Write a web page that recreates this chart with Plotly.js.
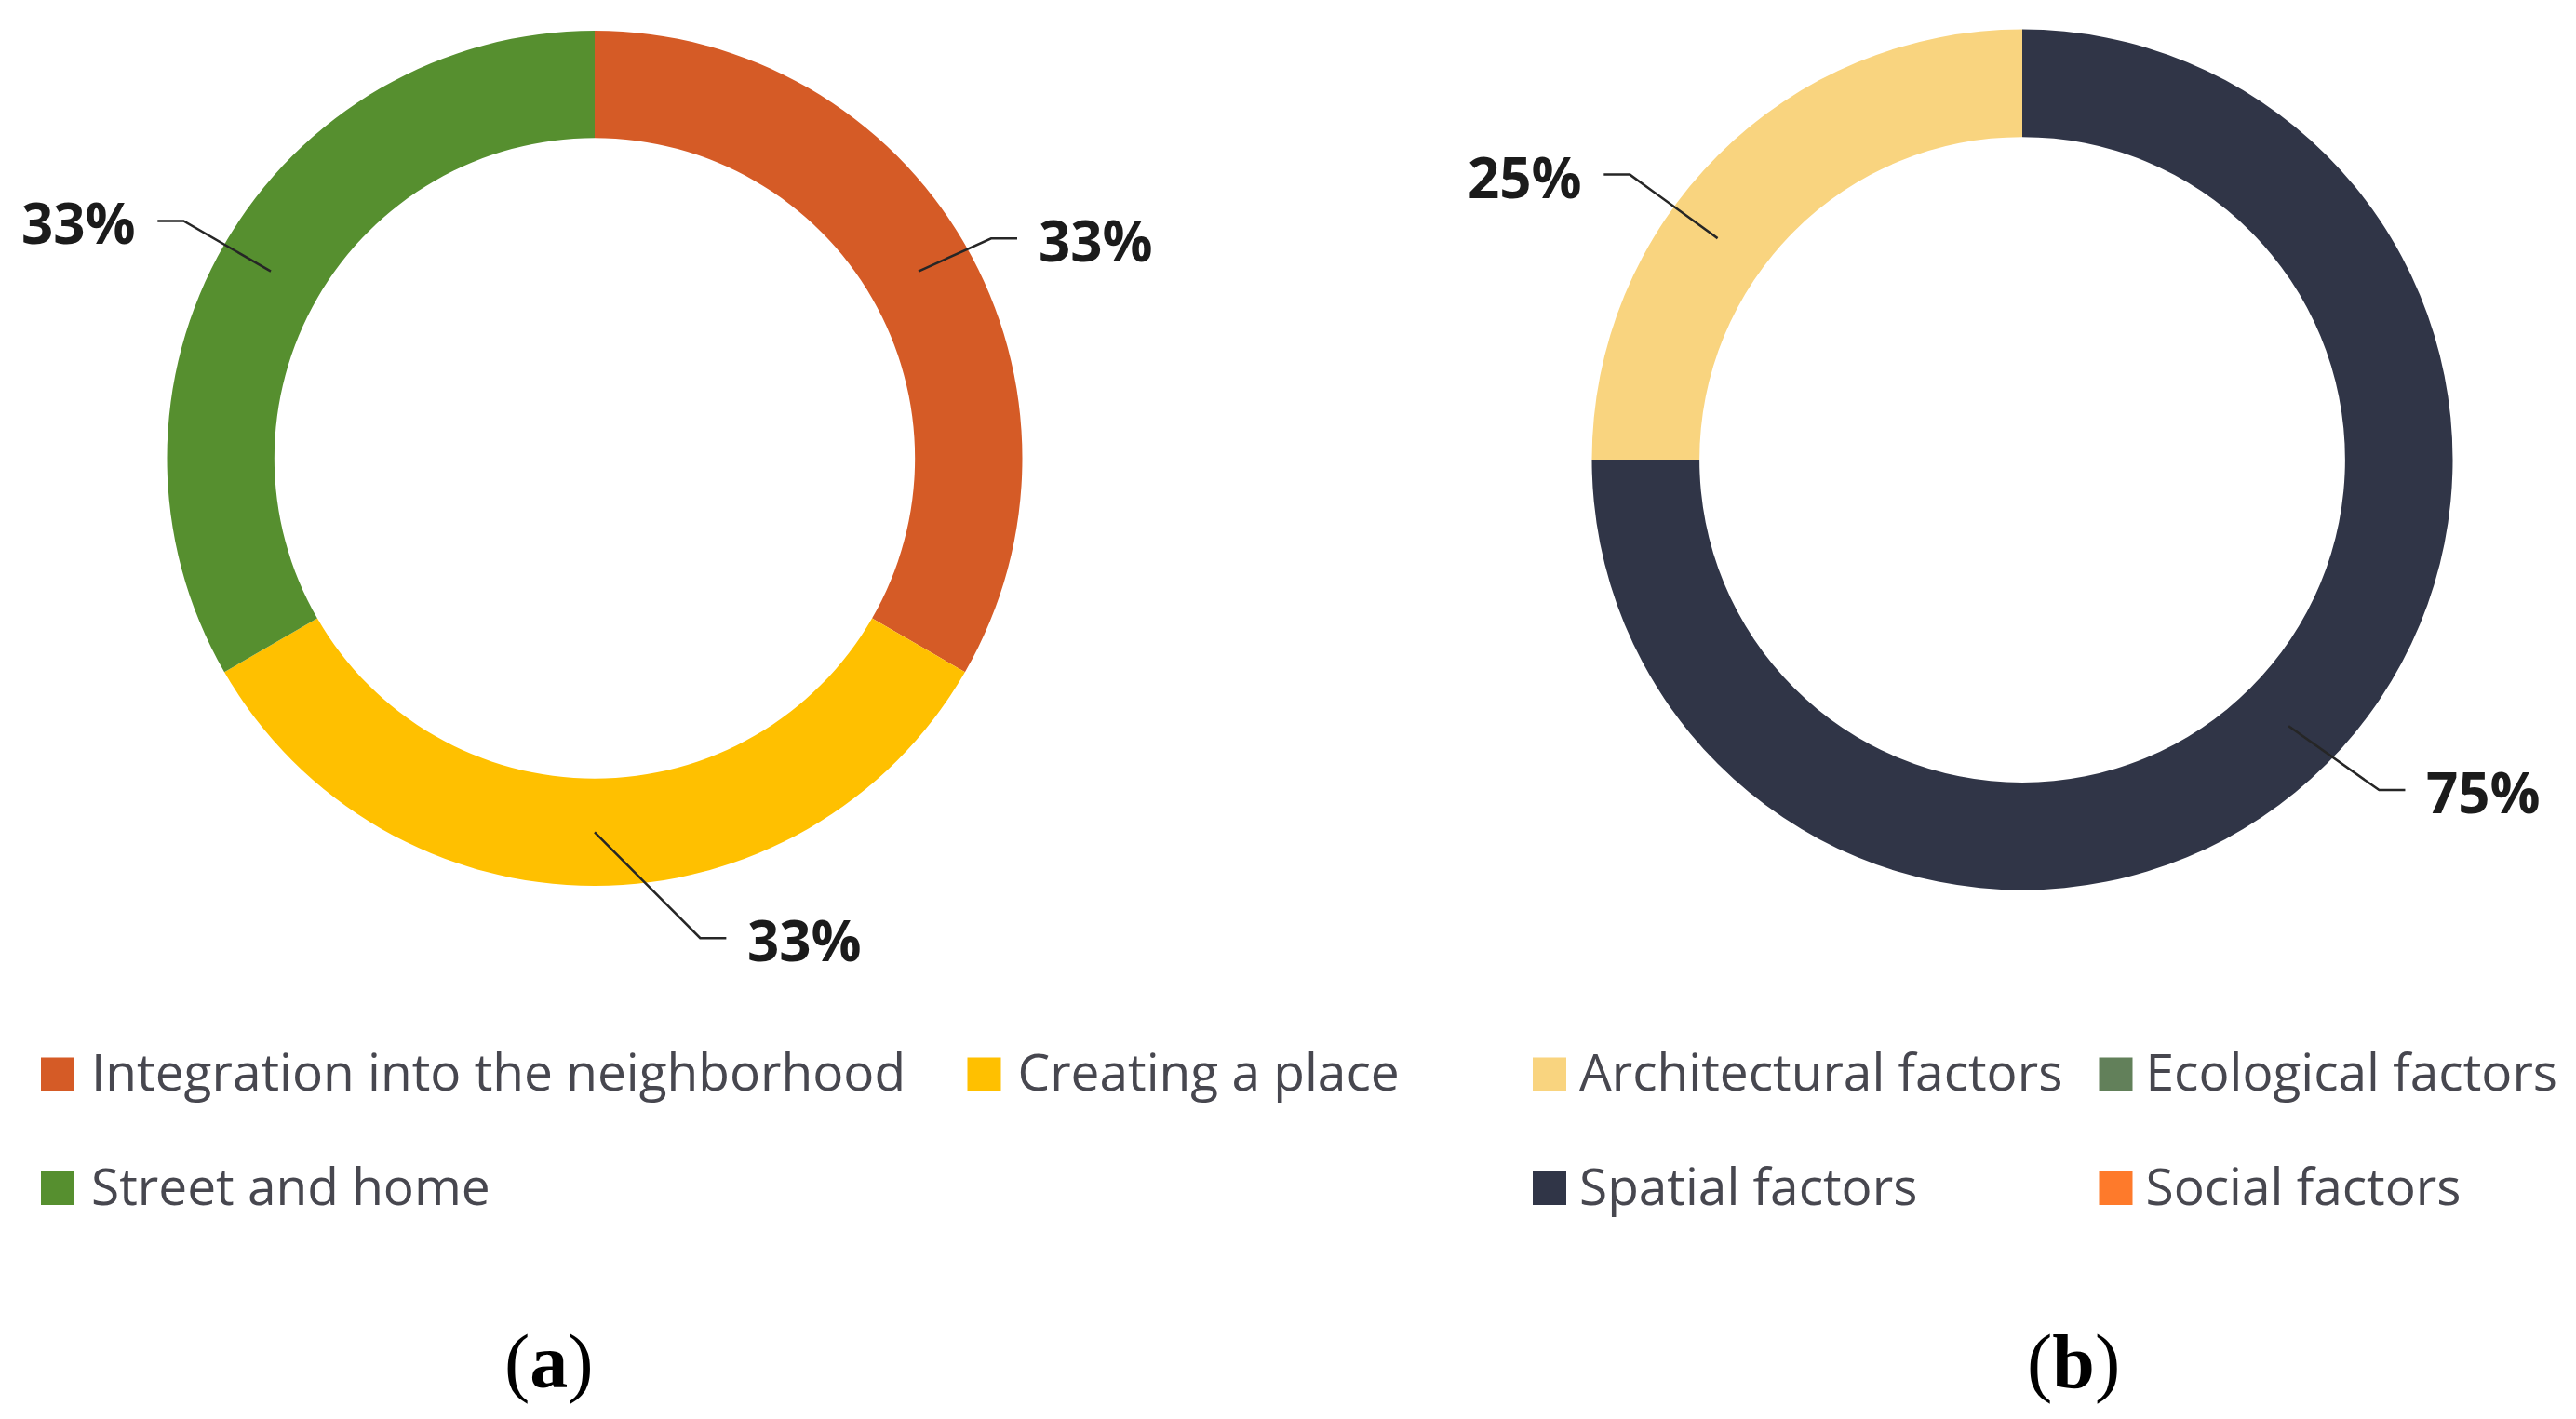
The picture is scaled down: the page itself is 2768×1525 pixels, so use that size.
<!DOCTYPE html>
<html><head><meta charset="utf-8">
<script src="https://cdn.plot.ly/plotly-3.0.1.min.js"></script>
<style>
html,body{margin:0;padding:0;background:#ffffff;width:2768px;height:1525px;overflow:hidden;}
#chartA{position:absolute;left:0;top:0;width:2768px;height:1525px;}
#chartB{position:absolute;left:1384px;top:0;width:1600px;height:1525px;}
</style></head><body>
<div id="chartA"></div><div id="chartB"></div>
<script>
// ---------- data ----------
const categoriesA = ['Integration into the neighborhood', 'Creating a place', 'Street and home'];
const valuesA = [33, 33, 33];
const colorsA = ['#D55B26', '#FFC000', '#568F2F'];

const categoriesB = ['Architectural factors', 'Ecological factors', 'Spatial factors', 'Social factors'];
const valuesB = [25, 0, 75, 0];
const colorsB = ['#F9D47F', '#62805A', '#303547', '#FE7A2B'];

const captionA = 'a';
const captionB = 'b';

// ---------- layout config (page pixels) ----------
const PAGE_H = 1525;
const panelA = {
  left: 0, width: 2768, cx: 639, cy: 492.5, R: 459.5, hole: 0.749, direction: 'clockwise',
  legend: {x0: 26, top: 1118, itemwidth: 62, entrywidth: 918.5},
  labelGeom: [{ds: 0, de: 1, re: 1.06}, {ds: 0, de: -12.4, re: 1.149}, {ds: 0, de: 0, re: 1.11}],
  caption: {x: 590, y: 1463}, bg: '#ffffff'
};
const panelB = {
  left: 1384, width: 1600, cx: 2173, cy: 494, R: 462.5, hole: 0.75, direction: 'counterclockwise',
  legend: {x0: 1633, top: 1118, itemwidth: 54, entrywidth: 539.5},
  labelGeom: [{ds: -9, de: -9, re: 1.127}, null, {ds: 0, de: -2.2, re: 1.13}, null],
  caption: {x: 2228, y: 1463}, bg: 'rgba(0,0,0,0)'
};

function buildPanel(divId, p, cats, vals, colors, caption) {
  const w = p.width;
  const px = X => (X - p.left) / w;
  const py = Y => 1 - Y / PAGE_H;
  const total = vals.reduce((a, b) => a + b, 0);
  const sgn = p.direction === 'clockwise' ? 1 : -1;
  // first slice starts at 12 o'clock in both directions
  const rotation = p.direction === 'clockwise' ? 0 : -360 * vals[0] / total;
  const trace = {
    type: 'pie',
    labels: cats.map(c => '<span style="font-size:55px">' + c + '</span><br> '),
    values: vals,
    marker: {colors: colors, line: {width: 0}},
    hole: p.hole, sort: false, direction: p.direction, rotation: rotation,
    textinfo: 'none', hoverinfo: 'none',
    domain: {x: [px(p.cx - p.R), px(p.cx + p.R)], y: [py(p.cy + p.R), py(p.cy - p.R)]}
  };
  const pt = (r, deg) => {
    const t = deg * Math.PI / 180;
    return {x: p.cx + r * Math.sin(t), y: p.cy - r * Math.cos(t)};
  };
  const shapes = [], annotations = [];
  let cum = 0;
  vals.forEach((v, i) => {
    const mid = sgn * 360 * (cum + v / 2) / total;
    cum += v;
    const g = p.labelGeom[i];
    if (!v || !g) return;
    const s = pt(p.R * (1 + p.hole) / 2, mid + g.ds);
    const e = pt(p.R * g.re, mid + g.de);
    const side = e.x >= p.cx ? 1 : -1;
    const hx = e.x + side * 28;
    shapes.push({type: 'path', xref: 'paper', yref: 'paper',
      path: `M${px(s.x)},${py(s.y)} L${px(e.x)},${py(e.y)} L${px(hx)},${py(e.y)}`,
      line: {color: '#262626', width: 2.5}});
    annotations.push({xref: 'paper', yref: 'paper', x: px(hx + side * 21), y: py(e.y + 2),
      xanchor: side > 0 ? 'left' : 'right', yanchor: 'middle', showarrow: false,
      text: '<b>' + v + '%</b>', font: {family: 'Open Sans', size: 60, color: '#1b1b1b'}});
  });
  annotations.push({xref: 'paper', yref: 'paper', x: px(p.caption.x), y: py(p.caption.y),
    xanchor: 'center', yanchor: 'middle', showarrow: false,
    text: '(<b>' + caption + '</b>)', font: {family: 'Liberation Serif', size: 82, color: '#000000'}});

  const layout = {
    width: w, height: PAGE_H, margin: {l: 0, r: 0, t: 0, b: 0},
    paper_bgcolor: p.bg, plot_bgcolor: 'rgba(0,0,0,0)',
    font: {family: 'Open Sans'},
    showlegend: true,
    legend: {orientation: 'h', x: px(p.legend.x0), xanchor: 'left', y: py(p.legend.top), yanchor: 'top',
      itemwidth: p.legend.itemwidth, entrywidth: p.legend.entrywidth, entrywidthmode: 'pixels',
      font: {family: 'Open Sans', size: 46, color: '#47474f'}, valign: 'top',
      bgcolor: 'rgba(0,0,0,0)', traceorder: 'normal'},
    shapes: shapes, annotations: annotations
  };
  return Plotly.newPlot(divId, [trace], layout, {displayModeBar: false, responsive: false}).then(gd => {
    gd.querySelectorAll('.legendpie').forEach(el => el.setAttribute('d', 'M18,18H-18V-18H18Z'));
    return gd;
  });
}

buildPanel('chartA', panelA, categoriesA, valuesA, colorsA, captionA);
buildPanel('chartB', panelB, categoriesB, valuesB, colorsB, captionB);
</script>
</body></html>
